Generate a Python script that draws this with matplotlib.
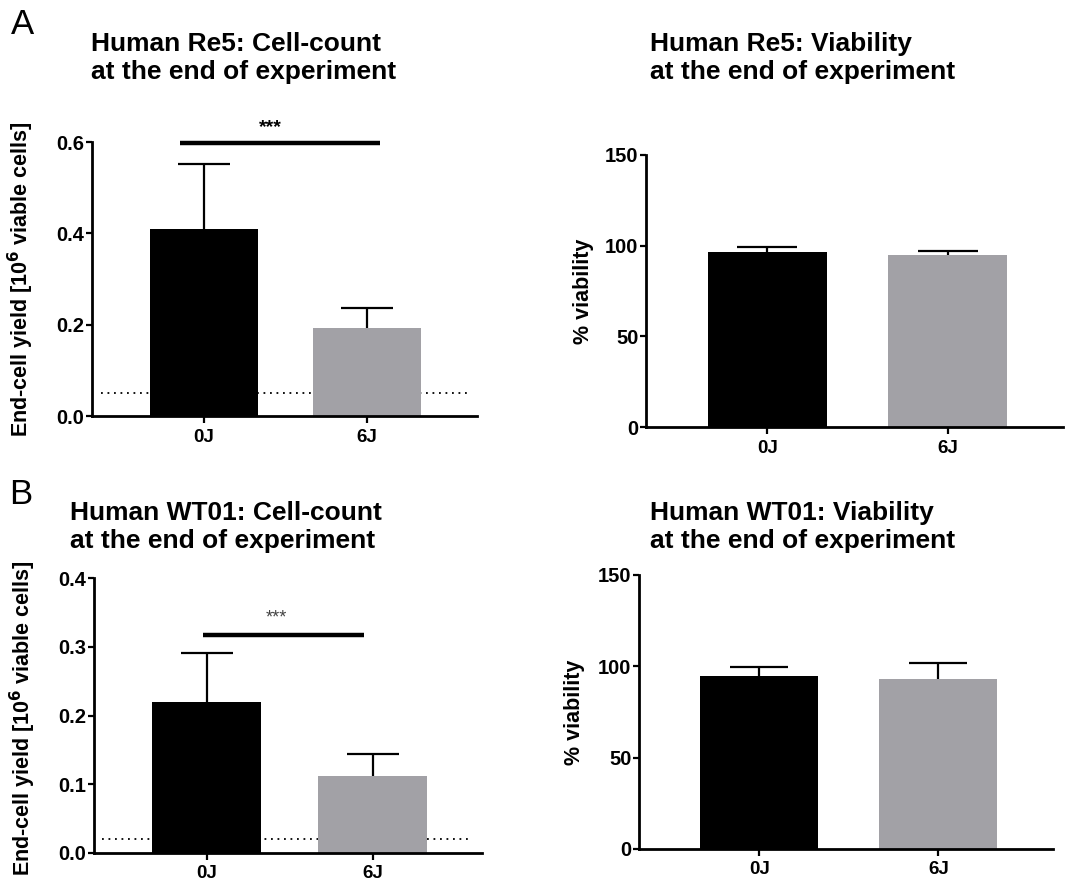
import numpy as np
import matplotlib
matplotlib.use('Agg')
import matplotlib.pyplot as plt

plt.rcParams['font.family'] = ['Liberation Sans', 'DejaVu Sans']
plt.rcParams['font.weight'] = 'bold'

groups = ['0J', '6J']

re5_count = [0.41, 0.193]
re5_count_sd = [0.142, 0.043]
re5_viab = [96.5, 94.9]
re5_viab_sd = [2.8, 2.4]

wt01_count = [0.22, 0.112]
wt01_count_sd = [0.071, 0.032]
wt01_viab = [94.7, 93.1]
wt01_viab_sd = [4.9, 8.7]

re5_limit = 0.05
wt01_limit = 0.02

colors = ['black', '#a2a1a6']

W, H = 1067, 886
fig = plt.figure(figsize=(W / 100, H / 100), dpi=100)


def px_axes(x0, y0, x1, y1):
    return fig.add_axes([x0 / W, 1 - y1 / H, (x1 - x0) / W, (y1 - y0) / H])


def bar_panel(ax, vals, sds, ymax, yticks, ticklabels, xlim, capsize):
    x = np.arange(len(groups))
    ax.bar(x, vals, width=0.66, color=colors, zorder=2)
    eb = ax.errorbar(x, vals, yerr=[np.zeros(len(sds)), sds], fmt='none',
                     ecolor='black', elinewidth=1.6, capsize=capsize, capthick=1.6, zorder=3)
    # only the upper half of the SD bar, like prism does
    eb[1][0].set_visible(False)
    ax.set_xlim(*xlim)
    ax.set_ylim(0, ymax)
    ax.set_xticks(x)
    ax.set_xticklabels(groups, fontsize=13.5, fontweight='bold')
    ax.set_yticks(yticks)
    ax.set_yticklabels(ticklabels, fontsize=14.5, fontweight='bold')
    for s in ['top', 'right']:
        ax.spines[s].set_visible(False)
    for s in ['left', 'bottom']:
        ax.spines[s].set_linewidth(2.0)
    ax.tick_params(axis='y', length=4, width=1.6, pad=1.5)
    ax.tick_params(axis='x', length=5, width=1.6, pad=4)


ylab_count = 'End-cell yield [10$^{\\mathbf{6}}$ viable cells]'

# A left: Re5 cell count
ax1 = px_axes(92, 142, 477, 416)
bar_panel(ax1, re5_count, re5_count_sd, 0.6, [0, 0.2, 0.4, 0.6],
          ['0.0', '0.2', '0.4', '0.6'], (-0.687, 1.675), 19)
ax1.plot([-0.63, 1.63], [re5_limit, re5_limit], ls=(0, (1, 2.6)), color='black', lw=1.3, zorder=1)
ax1.plot([-0.15, 1.08], [0.597, 0.597], color='black', lw=3.2, clip_on=False, solid_capstyle='butt')
ax1.text(0.41, 0.612, '***', ha='center', va='bottom', fontsize=14, fontweight='bold')
ax1.set_ylabel(ylab_count, fontsize=15.5, fontweight='bold', labelpad=15)

# A right: Re5 viability
ax2 = px_axes(646, 155, 1063, 427)
bar_panel(ax2, re5_viab, re5_viab_sd, 150, [0, 50, 100, 150],
          ['0', '50', '100', '150'], (-0.672, 1.64), 21.5)
ax2.set_ylabel('% viability', fontsize=15.5, fontweight='bold', labelpad=8)

# B left: WT01 cell count
ax3 = px_axes(94, 578, 482, 853)
bar_panel(ax3, wt01_count, wt01_count_sd, 0.4, [0, 0.1, 0.2, 0.3, 0.4],
          ['0.0', '0.1', '0.2', '0.3', '0.4'], (-0.68, 1.66), 19)
ax3.plot([-0.63, 1.60], [wt01_limit, wt01_limit], ls=(0, (1, 2.6)), color='black', lw=1.3, zorder=1)
ax3.plot([-0.024, 0.95], [0.317, 0.317], color='black', lw=3.2, clip_on=False, solid_capstyle='butt')
ax3.text(0.42, 0.330, '***', ha='center', va='bottom', fontsize=13, fontweight='normal', color='#444444')
ax3.set_ylabel(ylab_count, fontsize=15.5, fontweight='bold')
ax3.yaxis.set_label_coords(-0.145, 0.49)

# B right: WT01 viability
ax4 = px_axes(639, 575, 1053, 849)
bar_panel(ax4, wt01_viab, wt01_viab_sd, 150, [0, 50, 100, 150],
          ['0', '50', '100', '150'], (-0.672, 1.64), 21)
ax4.set_ylabel('% viability', fontsize=15.5, fontweight='bold', labelpad=9)

# titles
title_kw = dict(fontsize=19, fontweight='bold', ha='left', va='center', linespacing=1.25)
fig.text(91 / W, 1 - 58 / H, 'Human Re5: Cell-count\nat the end of experiment', **title_kw)
fig.text(650 / W, 1 - 58 / H, 'Human Re5: Viability\nat the end of experiment', **title_kw)
fig.text(70 / W, 1 - 527 / H, 'Human WT01: Cell-count\nat the end of experiment', **title_kw)
fig.text(650 / W, 1 - 527 / H, 'Human WT01: Viability\nat the end of experiment', **title_kw)

# panel letters
fig.text(11 / W, 1 - 24 / H, 'A', fontsize=25, fontweight='normal', ha='left', va='center')
fig.text(9 / W, 1 - 494 / H, 'B', fontsize=25, fontweight='normal', ha='left', va='center')

fig.savefig('out.png', dpi=100)
